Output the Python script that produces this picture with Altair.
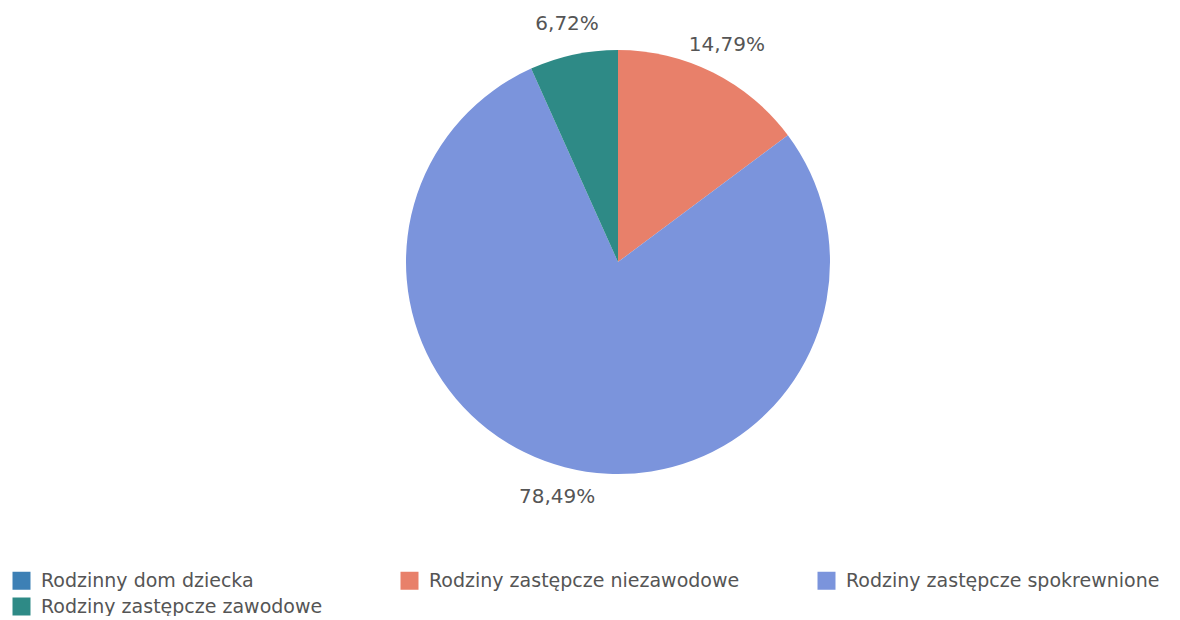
import altair as alt
import pandas as pd

categories = [
    "Rodzinny dom dziecka",
    "Rodziny zastępcze niezawodowe",
    "Rodziny zastępcze spokrewnione",
    "Rodziny zastępcze zawodowe",
]
values = [0.0, 14.79, 78.49, 6.72]
slice_order = [0, 1, 2, 3]
colors = ["#3D80B5", "#E8806A", "#7B94DC", "#2E8A86"]

labels = ["" if v == 0 else f"{v:.2f}%".replace(".", ",") for v in values]

df = pd.DataFrame({
    "kategoria": categories,
    "wartosc": values,
    "kolejnosc": slice_order,
    "etykieta": labels,
})

base = alt.Chart(df).encode(
    theta=alt.Theta("wartosc:Q", stack=True),
    order=alt.Order("kolejnosc:Q"),
)

pie = base.mark_arc(outerRadius=212).encode(
    color=alt.Color(
        "kategoria:N",
        scale=alt.Scale(domain=categories, range=colors),
        legend=alt.Legend(
            title=None,
            orient="none",
            direction="horizontal",
            legendX=-52,
            legendY=563,
            columns=3,
            columnPadding=77,
            rowPadding=6,
            symbolType="square",
            symbolSize=324,
            symbolStrokeWidth=0,
            labelFontSize=19,
            labelFont="DejaVu Sans",
            labelColor="#555555",
            labelOffset=10,
            labelLimit=500,
            padding=0,
        ),
    )
)

text = base.mark_text(
    radius=243, fontSize=20, font="DejaVu Sans", color="#555555"
).encode(text="etykieta:N")

chart = (
    (pie + text)
    .properties(
        width=1108,
        height=508,
        padding={"left": 56, "top": 0, "right": 0, "bottom": 100},
        autosize=alt.AutoSizeParams(type="none"),
    )
    .configure_view(stroke=None)
)

chart.save("out.html", embed_options={"renderer": "svg", "actions": False})
